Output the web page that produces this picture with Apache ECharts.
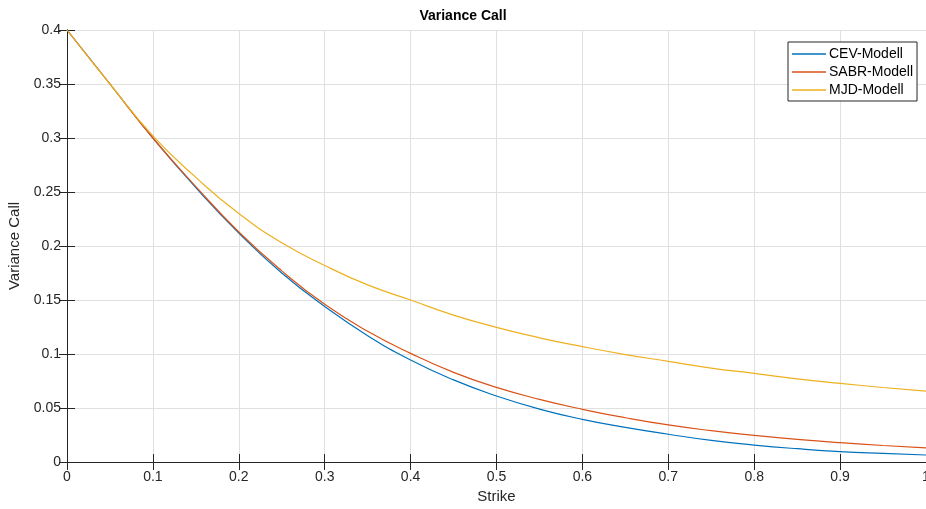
<!DOCTYPE html>
<html>
<head>
<meta charset="utf-8">
<script src="https://cdn.jsdelivr.net/npm/echarts@6/dist/echarts.min.js"></script>
<style>
  html, body { margin: 0; padding: 0; background: #fff; }
  #chart { width: 926px; height: 509px; }
</style>
</head>
<body>
<div id="chart"></div>
<script>
// Werte (Schritt 0.05)
var strike = [0, 0.05, 0.1, 0.15, 0.2, 0.25, 0.3, 0.35, 0.4, 0.45, 0.5,
              0.55, 0.6, 0.65, 0.7, 0.75, 0.8, 0.85, 0.9, 0.95, 1.0];
var cev  = [0.4, 0.35, 0.3, 0.254, 0.212, 0.175, 0.144, 0.117, 0.0944, 0.076, 0.0611,
            0.049, 0.0395, 0.032, 0.0257, 0.020, 0.0157, 0.0123, 0.0096, 0.0079, 0.0065];
var sabr = [0.4, 0.35, 0.3, 0.255, 0.213, 0.177, 0.146, 0.121, 0.1006, 0.083, 0.0691,
            0.058, 0.0488, 0.041, 0.0343, 0.029, 0.0247, 0.021, 0.0179, 0.0153, 0.013];
var mjd  = [0.4, 0.35, 0.302, 0.2635, 0.23, 0.203, 0.182, 0.164, 0.150, 0.136, 0.1247,
            0.115, 0.1068, 0.0995, 0.0932, 0.087, 0.0821, 0.077, 0.0728, 0.069, 0.0657];
var seriesNames = ["CEV-Modell", "SABR-Modell", "MJD-Modell"];
var colors = ["#0072BD", "#D95319", "#EDB120"];

var font = "Liberation Sans, Arial, Helvetica, sans-serif";
var axisColor = "#262626";

function pairs(ys) {
    return strike.map(function(x, i) { return [x, ys[i]]; });
}
function fmt(v) {
    return String(+v.toFixed(2));
}

var myChart = echarts.init(document.getElementById("chart"), null, { renderer: "canvas" });

var lineSeries = [cev, sabr, mjd].map(function(ys, i) {
    return {
        name: seriesNames[i],
        type: "line",
        data: pairs(ys),
        smooth: 0.5,
        showSymbol: false,
        symbol: "none",
        lineStyle: { color: colors[i], width: 1.2 },
        itemStyle: { color: colors[i] },
        z: 3 + i
    };
});

var option = {
    backgroundColor: "#fff",
    animation: false,
    title: {
        text: "Variance Call",
        left: "center",
        top: 4,
        textStyle: { fontFamily: font, fontSize: 14, fontWeight: "bold", color: "#000" }
    },
    legend: {
        left: 788,
        top: 42,
        orient: "vertical",
        icon: "rect",
        itemWidth: 34,
        itemHeight: 1.5,
        itemGap: 2,
        padding: [4, 4, 3, 4],
        borderColor: axisColor,
        borderWidth: 1,
        backgroundColor: "#fff",
        textStyle: { fontFamily: font, fontSize: 14, color: "#000", padding: [0, 0, 0, -2], lineHeight: 16 },
        data: seriesNames
    },
    grid: { left: 67, right: 0, top: 30, bottom: 47, outerBoundsMode: "none", containLabel: false },
    xAxis: [{
        type: "value",
        min: 0,
        max: 1,
        interval: 0.1,
        name: "Strike",
        nameLocation: "middle",
        nameGap: 27,
        nameTextStyle: { fontFamily: font, fontSize: 15, color: axisColor },
        axisLine: { lineStyle: { color: axisColor, width: 1 } },
        axisTick: { inside: true, length: 8, lineStyle: { color: axisColor } },
        axisLabel: { fontFamily: font, fontSize: 14, color: axisColor, margin: 8, formatter: fmt },
        splitLine: { show: true, lineStyle: { color: "#e0e0e0", width: 1 } }
    }, {
        type: "value",
        position: "top",
        min: 0,
        max: 1,
        interval: 0.1,
        axisLine: { show: true, lineStyle: { color: axisColor, width: 1 } },
        axisTick: { inside: true, length: 8, lineStyle: { color: axisColor } },
        axisLabel: { show: false },
        splitLine: { show: false }
    }],
    yAxis: [{
        type: "value",
        min: 0,
        max: 0.4,
        interval: 0.05,
        name: "Variance Call",
        nameLocation: "middle",
        nameGap: 36,
        nameTextStyle: { fontFamily: font, fontSize: 15, color: axisColor },
        axisLine: { show: true, lineStyle: { color: axisColor, width: 1 } },
        axisTick: { show: true, inside: true, length: 8, lineStyle: { color: axisColor } },
        axisLabel: { fontFamily: font, fontSize: 14, color: axisColor, margin: 6, formatter: fmt },
        splitLine: { show: true, lineStyle: { color: "#e0e0e0", width: 1 } }
    }, {
        type: "value",
        position: "right",
        min: 0,
        max: 0.4,
        interval: 0.05,
        axisLine: { show: true, lineStyle: { color: axisColor, width: 1 } },
        axisTick: { show: true, inside: true, length: 8, lineStyle: { color: axisColor } },
        axisLabel: { show: false },
        splitLine: { show: false }
    }],
    series: lineSeries
};

myChart.setOption(option, true);
</script>
</body>
</html>
